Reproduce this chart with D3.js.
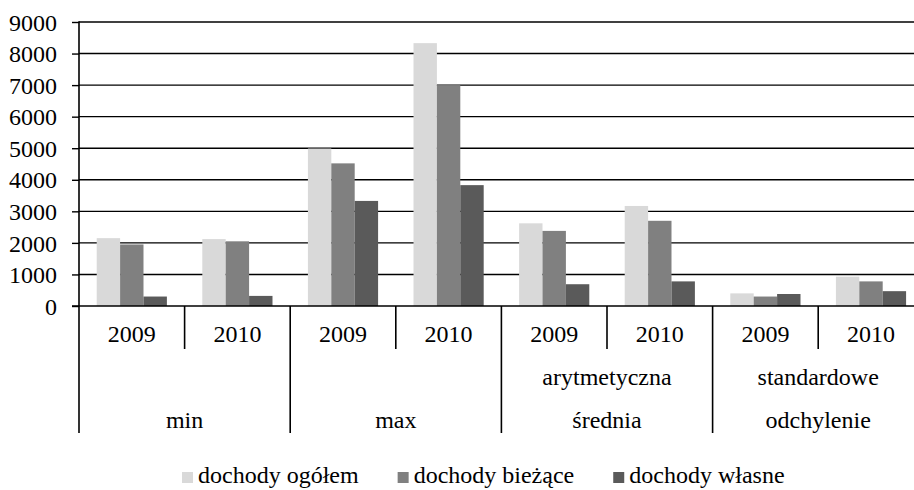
<!DOCTYPE html>
<html><head><meta charset="utf-8">
<script src="https://cdn.jsdelivr.net/npm/d3@7"></script>
<style>
html,body{margin:0;padding:0;background:#fff;}
svg{display:block;}
svg text{font-family:"Liberation Serif","Times New Roman",serif;}
</style></head>
<body>
<svg id="chart" width="914" height="490"></svg>
<script>
const groups = [["min"], ["max"], ["arytmetyczna", "średnia"], ["standardowe", "odchylenie"]];
const years = ["2009", "2010"];
const seriesNames = ["dochody ogółem", "dochody bieżące", "dochody własne"];
const ogolem  = [2150, 2120, 4990, 8330, 2620, 3170, 400, 930];
const biezace = [1950, 2050, 4520, 7000, 2380, 2700, 300, 780];
const wlasne  = [300, 320, 3330, 3830, 690, 780, 380, 470];
const yTicks = [0, 1000, 2000, 3000, 4000, 5000, 6000, 7000, 8000, 9000];
const colors = ["#d9d9d9", "#808080", "#5a5a5a"];

const series = [ogolem, biezace, wlasne];
const svg = d3.select("#chart");
const L = 79, R = 923.8, T = 22, B = 306;
const fs = 24;
const FF = "Liberation Serif";

const cats = [];
groups.forEach((g, gi) => years.forEach(y => cats.push({key: gi + "-" + y, group: gi, year: y})));

const x = d3.scaleBand().domain(cats.map(c => c.key)).range([L, R]).padding(0);
const xs = d3.scaleBand().domain(d3.range(series.length)).range([0, x.bandwidth()]).paddingInner(0).paddingOuter(0.757);
const y = d3.scaleLinear().domain([0, 9000]).range([B, T]);

// gridlines
svg.append("g").selectAll("line").data(yTicks.filter(t => t > 0)).join("line")
  .attr("x1", L).attr("x2", 914).attr("y1", d => y(d)).attr("y2", d => y(d))
  .attr("stroke", "#000").attr("stroke-width", 1.4);

// bars
const bg = svg.append("g");
series.forEach((s, si) => {
  bg.selectAll(".b" + si).data(cats).join("rect")
    .attr("x", (c) => x(c.key) + xs(si))
    .attr("width", xs.bandwidth())
    .attr("y", (c, i) => y(s[i]))
    .attr("height", (c, i) => B - y(s[i]))
    .attr("fill", colors[si]);
});

// y axis
const yAxis = d3.axisLeft(y).tickValues(yTicks).tickSize(7).tickPadding(15).tickFormat(d3.format("d"));
const ya = svg.append("g").attr("transform", `translate(${L},0)`).call(yAxis)
  .attr("font-family", FF).attr("font-size", fs);
ya.select(".domain").remove();
ya.selectAll(".tick line").attr("stroke", "#000").attr("stroke-width", 1.4);
ya.selectAll(".tick text").attr("fill", "#000").attr("dy", "0.34em");

// axis lines
svg.append("line").attr("x1", L).attr("x2", L).attr("y1", T - 0.7).attr("y2", 433)
  .attr("stroke", "#000").attr("stroke-width", 1.6);
svg.append("line").attr("x1", L - 7).attr("x2", 914).attr("y1", B).attr("y2", B)
  .attr("stroke", "#000").attr("stroke-width", 1.6);

// category separators
const catAxis = svg.append("g").attr("font-family", FF).attr("font-size", fs);
cats.forEach((c, i) => {
  if (i === 0) return;
  const xx = x(c.key);
  const isGroup = c.year === years[0];
  catAxis.append("line").attr("x1", xx).attr("x2", xx).attr("y1", B).attr("y2", isGroup ? 433 : 349)
    .attr("stroke", "#000").attr("stroke-width", 1.6);
});
// year labels
catAxis.selectAll(".yr").data(cats).join("text")
  .attr("x", c => x(c.key) + x.bandwidth() / 2).attr("y", 342)
  .attr("text-anchor", "middle").attr("fill", "#000").text(c => c.year);
// group labels
groups.forEach((g, gi) => {
  const cx = x(gi + "-" + years[0]) + x.bandwidth();
  const lines = g.length === 1 ? [null, g[0]] : g;
  lines.forEach((t, li) => {
    if (!t) return;
    catAxis.append("text").attr("x", cx).attr("y", li === 0 ? 385 : 428)
      .attr("text-anchor", "middle").attr("fill", "#000").text(t);
  });
});

// legend
const lg = svg.append("g").attr("font-family", FF).attr("font-size", fs);
let lx = 182;
seriesNames.forEach((n, i) => {
  lg.append("rect").attr("x", lx).attr("y", 472).attr("width", 11).attr("height", 11).attr("fill", colors[i]);
  const t = lg.append("text").attr("x", lx + 16).attr("y", 483).attr("fill", "#000").text(n);
  const w = t.node().getComputedTextLength();
  lx += 16 + w + 39;
});
</script>
</body></html>
